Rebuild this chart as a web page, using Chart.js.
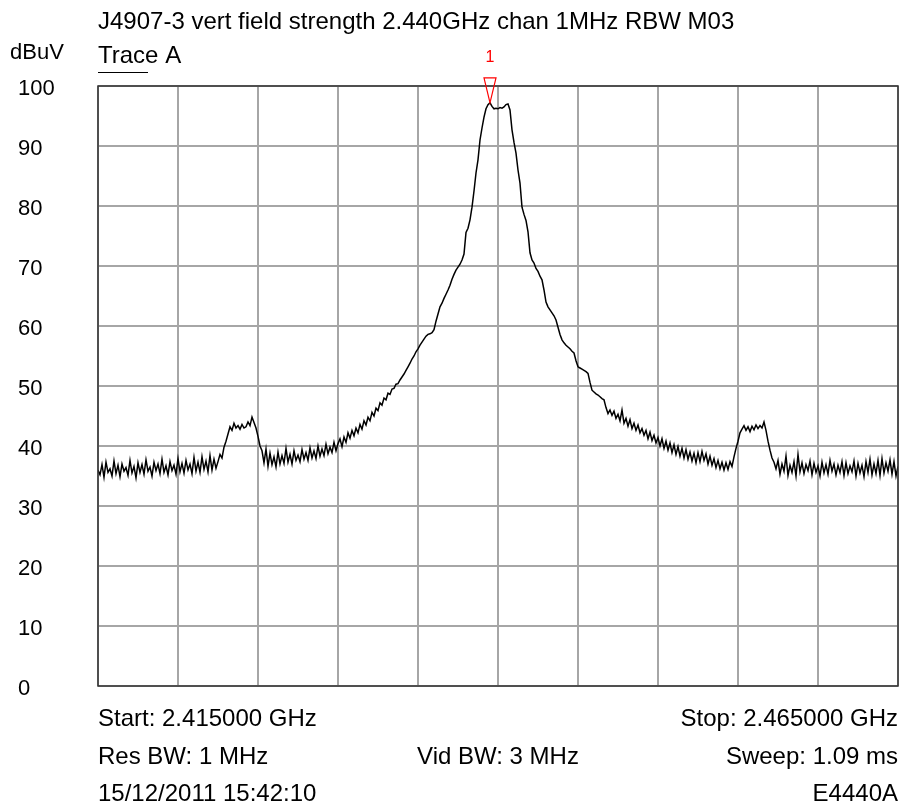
<!DOCTYPE html>
<html>
<head>
<meta charset="utf-8">
<script src="https://cdn.jsdelivr.net/npm/chart.js@4/dist/chart.umd.min.js"></script>
<style>
  html, body { margin: 0; padding: 0; background: #ffffff; }
  #wrap { width: 901px; height: 805px; position: relative; }
</style>
</head>
<body>
<div id="wrap"><canvas id="c" width="901" height="805"></canvas></div>
<script>
// Sweep settings (MHz)
const startMHz = 2415;
const stopMHz = 2465;

// Y axis ticks (dBuV)
const yTicks = [0, 10, 20, 30, 40, 50, 60, 70, 80, 90, 100];

// Trace A, 401 sweep points (0.125 MHz apart), dBuV
const traceA = [
  // 2415.000 - 2422.500 noise floor
  36.0, 35.2, 36.9, 34.8, 37.3, 35.6, 36.2, 35.0, 37.5, 35.4,
  36.8, 34.9, 37.0, 35.8, 36.4, 35.1, 37.6, 35.5, 36.6, 34.7,
  37.2, 35.6, 36.9, 35.3, 37.7, 35.8, 36.5, 35.0, 37.3, 35.9,
  37.0, 35.4, 37.8, 35.6, 36.7, 35.2, 37.4, 35.9, 36.8, 35.3,
  37.9, 35.7, 37.1, 35.5, 37.6, 36.0, 37.0, 35.4, 38.1, 35.8,
  37.3, 35.6, 38.2, 36.1, 37.5, 35.7, 38.4, 36.0, 37.8, 36.3,
  37.4,
  // lower adjacent hump
  38.6, 38.0, 39.8, 40.8, 42.0, 43.2, 42.6, 43.8, 43.0, 43.4,
  42.8, 43.6, 43.0, 43.2, 44.0, 43.4, 44.8, 43.9, 43.0, 41.6,
  40.0, 39.2,
  // 2425.125 - 2429.750
  37.2, 39.5, 36.6, 38.8, 36.9, 38.2, 36.5, 39.0, 37.0, 38.4,
  37.1, 39.6, 37.3, 38.6, 37.0, 39.2, 37.6, 38.5, 37.4, 39.4,
  37.8, 38.9, 37.6, 39.7, 38.0, 39.2, 37.9, 40.0, 38.3, 39.5,
  38.4, 40.3, 38.7, 39.8, 38.9, 40.6, 39.2, 40.4,
  // rising skirt
  41.2, 39.9, 41.5, 40.6, 42.2, 41.3, 42.6, 41.7, 43.0, 42.2,
  43.6, 42.8, 44.2, 43.5, 44.8, 44.2, 45.6, 45.0, 46.3, 45.9,
  47.2, 46.8, 48.0, 47.7, 48.8, 48.6, 49.5, 49.6, 50.3, 50.4,
  51.0, 51.5, 52.0, 52.6, 53.2, 53.8, 54.5, 55.0, 55.7, 56.2,
  56.8,
  57.3, 57.8, 58.3, 58.6, 58.7, 58.9, 59.4, 60.8, 62.0, 63.2,
  63.8, 64.6, 65.3, 66.0, 66.8, 67.8, 68.6, 69.3, 69.8, 70.3,
  71.0, 72.0, 75.6, 76.3, 77.7,
  // channel
  79.8, 82.5, 85.5, 87.7, 91.0, 93.0, 94.8, 96.2, 96.9, 97.2,
  96.6, 96.2, 96.3, 96.2, 96.4, 96.3, 96.5, 96.9, 97.0, 96.0,
  92.7,
  // falling skirt
  90.6, 88.8, 86.0, 83.8, 79.8, 78.6, 77.6, 75.7, 72.2, 71.0,
  70.5, 69.6, 69.1, 68.3, 67.7, 66.0, 64.0, 63.2, 62.7, 62.2,
  61.7, 61.0, 59.8, 58.6, 57.7, 57.2, 56.8, 56.5, 56.2, 55.8,
  55.5, 54.2, 53.2,
  53.0, 52.8, 52.6, 52.4, 52.1, 50.6, 49.3, 49.0, 48.7, 48.5,
  48.2, 47.9, 47.7, 46.4, 45.4, 46.0, 45.1, 45.8, 44.6, 45.3,
  44.2, 46.0, 43.8, 44.6, 43.3, 44.4, 42.9, 43.8, 42.6, 43.5,
  42.2, 42.9, 41.8, 42.6, 41.2, 42.3, 40.9, 41.8, 40.5, 41.4,
  40.0, 41.2, 39.6, 40.8, 39.3, 40.5, 38.9, 40.2, 38.6, 39.9,
  38.3, 39.6, 38.0, 39.4, 37.8, 39.0, 37.5, 38.8, 37.2, 38.9,
  37.4, 39.1, 37.6, 38.7, 37.0, 38.3, 36.8, 37.9, 36.4, 37.6,
  36.2, 37.3, 36.0, 37.2, 36.1, 37.4, 36.6,
  // upper adjacent hump
  38.2, 39.6, 40.8, 42.2, 42.8, 43.4, 42.6, 43.2, 42.4, 43.3,
  42.7, 43.5, 42.9, 43.4, 43.0, 44.0, 42.6, 40.8, 39.3, 38.0,
  37.3, 36.2,
  // 2457.500 - 2465.000 noise floor
  37.6, 35.3, 37.0, 35.8, 38.3, 35.1, 36.8, 35.6, 37.4, 35.0,
  38.6, 35.7, 37.2, 35.4, 36.9, 35.9, 37.5, 35.2, 37.1, 35.6,
  36.7, 35.0, 37.3, 35.5, 36.9, 35.3, 37.6, 35.8, 37.0, 35.2,
  36.8, 35.6, 37.4, 35.1, 37.2, 35.4, 36.7, 35.7, 37.5, 35.0,
  37.1, 35.5, 36.8, 34.9, 37.4, 35.6, 37.8, 35.2, 37.0, 35.4,
  37.6, 35.1, 37.9, 35.5, 37.2, 35.8, 37.7, 35.3, 37.4, 35.0,
  36.6
];

// Annotation text
const titleText = 'J4907-3 vert field strength 2.440GHz chan 1MHz RBW M03';
const unitText = 'dBuV';
const traceText = 'Trace A';
const markerLabel = '1';
const footerRows = [
  ['Start: 2.415000 GHz', '', 'Stop: 2.465000 GHz'],
  ['Res BW: 1 MHz', 'Vid BW: 3 MHz', 'Sweep: 1.09 ms'],
  ['15/12/2011 15:42:10', '', 'E4440A']
];

// Sweep frequency of each trace point
const stepMHz = (stopMHz - startMHz) / (traceA.length - 1);
const points = traceA.map((v, i) => ({ x: startMHz + i * stepMHz, y: v }));

// Peak marker sits on the highest trace point
let peakIdx = 0;
traceA.forEach((v, i) => { if (v > traceA[peakIdx]) peakIdx = i; });

const FONT = '"Liberation Sans", Arial, sans-serif';
const FS_TEXT = 24;
const FS_AXIS = 22;

const annotations = {
  id: 'annotations',
  afterDraw(chart) {
    const { ctx, chartArea: a, scales } = chart;
    ctx.save();

    // plot frame
    ctx.strokeStyle = '#333333';
    ctx.lineWidth = 1.5;
    ctx.strokeRect(a.left, a.top, a.right - a.left, a.bottom - a.top);

    ctx.fillStyle = '#000000';
    ctx.textBaseline = 'middle';
    ctx.textAlign = 'left';

    // title, unit, trace name
    ctx.font = FS_TEXT + 'px ' + FONT;
    ctx.fillText(titleText, a.left, 22);
    ctx.fillText(traceText, a.left, 56);
    ctx.font = FS_AXIS + 'px ' + FONT;
    ctx.fillText(unitText, 10, 53);
    ctx.strokeStyle = '#000000';
    ctx.lineWidth = 1;
    ctx.beginPath();
    ctx.moveTo(a.left, 72.5);
    ctx.lineTo(a.left + 50, 72.5);
    ctx.stroke();

    // footer rows
    ctx.font = FS_TEXT + 'px ' + FONT;
    const rowY = [719, 757, 794];
    footerRows.forEach((row, r) => {
      ctx.textAlign = 'left';
      ctx.fillText(row[0], a.left, rowY[r]);
      ctx.textAlign = 'center';
      if (row[1]) ctx.fillText(row[1], (a.left + a.right) / 2, rowY[r]);
      ctx.textAlign = 'right';
      ctx.fillText(row[2], a.right, rowY[r]);
    });

    // peak marker
    const px = scales.x.getPixelForValue(points[peakIdx].x);
    const py = scales.y.getPixelForValue(points[peakIdx].y);
    ctx.strokeStyle = '#ff0000';
    ctx.lineWidth = 1.2;
    ctx.beginPath();
    ctx.moveTo(px - 6, py - 25);
    ctx.lineTo(px + 6, py - 25);
    ctx.lineTo(px, py);
    ctx.closePath();
    ctx.stroke();
    ctx.fillStyle = '#ff0000';
    ctx.font = '16px ' + FONT;
    ctx.textAlign = 'center';
    ctx.fillText(markerLabel, px, py - 45);

    ctx.restore();
  }
};

new Chart(document.getElementById('c'), {
  type: 'line',
  data: {
    datasets: [{
      label: traceText,
      data: points,
      borderColor: '#000000',
      borderWidth: 1.5,
      pointRadius: 0,
      tension: 0,
      fill: false
    }]
  },
  options: {
    responsive: false,
    animation: false,
    devicePixelRatio: 1,
    layout: { padding: { left: 18, right: 3, top: 86, bottom: 119 } },
    plugins: { legend: { display: false }, tooltip: { enabled: false }, title: { display: false } },
    scales: {
      x: {
        type: 'linear',
        min: startMHz,
        max: stopMHz,
        ticks: { display: false, stepSize: 5 },
        grid: { color: '#a6a6a6', lineWidth: 2, drawTicks: false },
        border: { display: false }
      },
      y: {
        min: 0,
        max: 100,
        afterBuildTicks(scale) { scale.ticks = yTicks.map(v => ({ value: v })); },
        afterFit(scale) { scale.width = 80; },
        ticks: {
          crossAlign: 'far',
          color: '#000000',
          font: { family: FONT, size: FS_AXIS },
          padding: 0,
          labelOffset: 3
        },
        grid: { color: '#a6a6a6', lineWidth: 2, drawTicks: false },
        border: { display: false }
      }
    }
  },
  plugins: [annotations]
});
</script>
</body>
</html>
